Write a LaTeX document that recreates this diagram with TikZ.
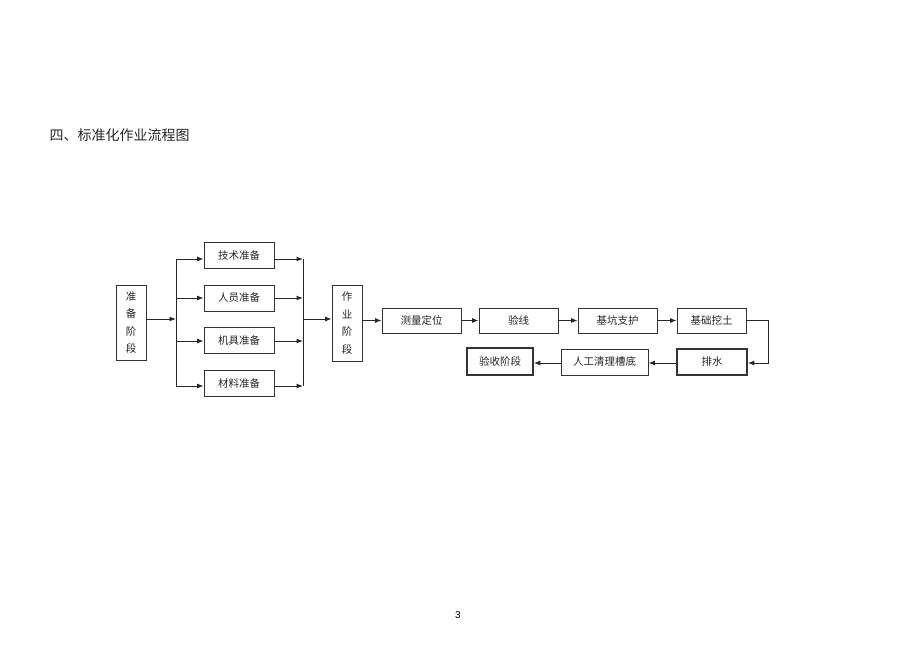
\documentclass[tikz,border=0pt]{standalone}
\usepackage{fontspec}
\setmainfont{Liberation Sans}
\newfontfamily\cjk{Noto Sans CJK SC}
\usetikzlibrary{arrows.meta}
\begin{document}
\begin{tikzpicture}[x=1pt,y=-1pt,
  box/.style={draw=black!80,line width=0.8pt,inner sep=0pt,text=black!85,font=\cjk\fontsize{10.5}{12}\selectfont},
  vbox/.style={box,align=center,font=\cjk\fontsize{10.5}{17.5}\selectfont},
  thickbox/.style={box,line width=1.6pt},
  arr/.style={draw=black!85,line width=1pt,-{Latex[length=6.5pt,width=5pt]}},
  ln/.style={draw=black!85,line width=1pt}]
\useasboundingbox (0,0) rectangle (920,651);
\node[font=\cjk\fontsize{14}{16}\selectfont,anchor=west,text=black!85] (title) at (46,135) {四、标准化作业流程图};
\node[font=\fontsize{10}{12}\selectfont] (page) at (458,615) {3};
% prep column
\node[vbox,minimum width=30pt,minimum height=75pt] (zb) at (131,322.5) {准\\备\\阶\\段};
\node[box,minimum width=70pt,minimum height=26pt] (js) at (239,255) {技术准备};
\node[box,minimum width=70pt,minimum height=26pt] (ry) at (239,298) {人员准备};
\node[box,minimum width=70pt,minimum height=26pt] (jj) at (239,340) {机具准备};
\node[box,minimum width=70pt,minimum height=26pt] (cl) at (239,383) {材料准备};
\node[vbox,minimum width=30pt,minimum height=76pt] (zy) at (347,323) {作\\业\\阶\\段};
\coordinate (sl) at (176,319);
\coordinate (sr) at (303,319);
\draw[arr] (zb.east |- sl) -- (sl);
\draw[ln] (176,259) -- (176,386);
\draw[ln] (303,259) -- (303,386);
\foreach \n/\y in {js/259,ry/298,jj/341,cl/386}{
  \draw[arr] (176,\y) -- (\n.west |- 0,\y);
  \draw[arr] (\n.east |- 0,\y) -- (303,\y);
}
\draw[arr] (sr) -- (zy.west |- sr);
% main flow
\node[box,minimum width=79pt,minimum height=25pt] (cl2) at (421.5,320.5) {测量定位};
\node[box,minimum width=79pt,minimum height=25pt] (yx) at (518.5,320.5) {验线};
\node[box,minimum width=79pt,minimum height=25pt] (jk) at (617.5,320.5) {基坑支护};
\node[box,minimum width=69pt,minimum height=25pt] (wt) at (711.5,320.5) {基础挖土};
\node[thickbox,minimum width=70pt,minimum height=26pt] (ps) at (712,362) {排水};
\node[box,minimum width=87pt,minimum height=26pt] (rg) at (604.5,362) {人工清理槽底};
\node[thickbox,minimum width=66pt,minimum height=27pt] (ys) at (500,361.5) {验收阶段};
\draw[arr] (zy.east |- cl2) -- (cl2.west);
\draw[arr] (cl2) -- (yx);
\draw[arr] (yx) -- (jk);
\draw[arr] (jk) -- (wt);
\coordinate (c1) at (768,320.5);
\coordinate (c2) at (768,363);
\draw[arr] (wt.east) -- (c1) -- (c2) -- (ps.east |- c2);
\draw[arr] (ps.west |- c2) -- (rg.east |- c2);
\draw[arr] (rg.west |- c2) -- (ys.east |- c2);
\end{tikzpicture}
\end{document}
